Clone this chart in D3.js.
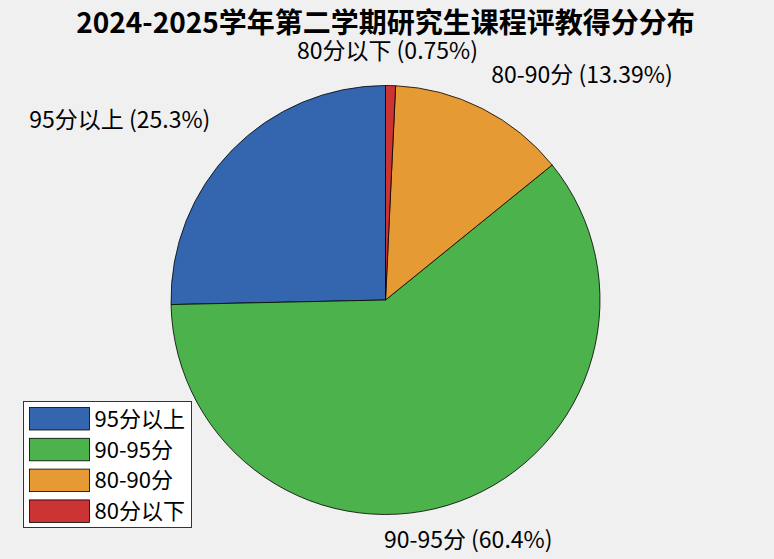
<!DOCTYPE html>
<html><head><meta charset="utf-8">
<script src="https://cdn.jsdelivr.net/npm/d3@7"></script>
<style>
html,body{margin:0;padding:0;background:#f0f0f0;}
svg{display:block;}
text{font-family:"Noto Sans CJK SC","Microsoft YaHei",sans-serif;}
</style></head>
<body>
<svg id="chart" width="774" height="559"></svg>
<script>
const title = "2024-2025学年第二学期研究生课程评教得分分布";
const categories = ["95分以上", "90-95分", "80-90分", "80分以下"];
const values = [25.3, 60.4, 13.39, 0.75];
const colors = ["#3466b0", "#4cb34c", "#e69a34", "#cc3333"];

const W = 774, H = 559;
const cx = 385.5, cy = 300, R = 214.5;
const svg = d3.select("#chart");
svg.append("rect").attr("width", W).attr("height", H).attr("fill", "#f0f0f0");

svg.append("text").attr("x", 385.5).attr("y", 32.5)
  .attr("text-anchor", "middle").attr("font-size", 28).attr("font-weight", "bold")
  .attr("fill", "#000").text(title);

const data = categories.map((c, i) => ({cat: c, value: values[i], color: colors[i]}));
// counterclockwise from 12 o'clock
const pie = d3.pie().value(d => d.value).sort(null).startAngle(0).endAngle(-2 * Math.PI);
const arcs = pie(data);
const arc = d3.arc().innerRadius(0).outerRadius(R);
const g = svg.append("g").attr("transform", `translate(${cx},${cy})`);
g.selectAll("path").data(arcs).enter().append("path")
  .attr("d", arc).attr("fill", d => d.data.color)
  .attr("stroke", "#000").attr("stroke-width", 0.8).attr("stroke-linejoin", "round");

const labelR = R * 1.175;
g.selectAll("text.lbl").data(arcs).enter().append("text").attr("class", "lbl")
  .each(function(d) {
    const a = (d.startAngle + d.endAngle) / 2;
    const x = labelR * Math.sin(a), y = -labelR * Math.cos(a);
    const anchor = Math.abs(x) < 0.45 * labelR ? "middle" : (x > 0 ? "start" : "end");
    const dx = anchor === "start" ? -8 : anchor === "end" ? 5 : -4;
    const dy = anchor === "middle" ? 3 : (x < 0 ? -4 : 0);
    d3.select(this).attr("x", x + dx).attr("y", y + dy).attr("dy", "0.35em")
      .attr("text-anchor", anchor).attr("font-size", 23).attr("fill", "#000")
      .text(`${d.data.cat} (${d.data.value}%)`);
  });

// legend
const lg = svg.append("g").attr("transform", "translate(23.5,401.5)");
lg.append("rect").attr("width", 168).attr("height", 126).attr("fill", "#fff")
  .attr("stroke", "#333").attr("stroke-width", 1);
const rowY = d3.scaleLinear().domain([0, 1]).range([6, 36.8]);
data.forEach((d, i) => {
  const y = rowY(i);
  lg.append("rect").attr("x", 6).attr("y", y).attr("width", 60).attr("height", 22.5)
    .attr("fill", d.color).attr("stroke", "#000").attr("stroke-width", 0.8);
  lg.append("text").attr("x", 71).attr("y", y + 11.5).attr("dy", "0.35em")
    .attr("font-size", 22).attr("fill", "#000").text(d.cat);
});
</script>
</body></html>
